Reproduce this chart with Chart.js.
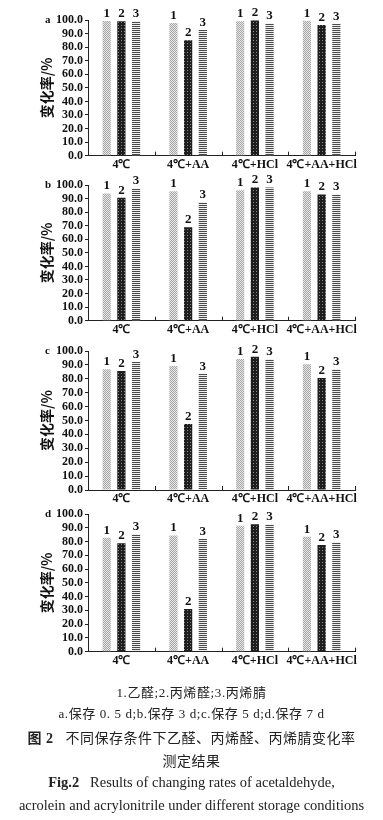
<!DOCTYPE html>
<html><head><meta charset="utf-8">
<script src="https://cdn.jsdelivr.net/npm/chart.js@4.4.1/dist/chart.umd.min.js"></script>
<style>
html,body{margin:0;padding:0;background:#fff;}
body{width:383px;height:820px;position:relative;overflow:hidden;font-family:"Liberation Serif","Noto Sans CJK SC",serif;color:#222;}
.pn{position:absolute;left:0;width:383px;height:176px;}
.cap{position:absolute;left:0;width:383px;text-align:center;white-space:nowrap;}
</style></head><body>
<div class="pn" style="top:0"><canvas id="ca"></canvas></div>
<div class="pn" style="top:165px"><canvas id="cb"></canvas></div>
<div class="pn" style="top:330px"><canvas id="cc"></canvas></div>
<div class="pn" style="top:495px"><canvas id="cd"></canvas></div>
<div class="cap" style="top:682px;font-size:13px;letter-spacing:0.6px;">1.乙醛;2.丙烯醛;3.丙烯腈</div>
<div class="cap" style="top:703px;font-size:13px;letter-spacing:0.6px;">a.保存 0. 5 d;b.保存 3 d;c.保存 5 d;d.保存 7 d</div>
<div class="cap" style="top:727px;font-size:14px;letter-spacing:0.5px;"><b>图 2</b>&nbsp;&nbsp;&nbsp;不同保存条件下乙醛、丙烯醛、丙烯腈变化率</div>
<div class="cap" style="top:750px;font-size:14px;letter-spacing:0.5px;">测定结果</div>
<div class="cap" style="top:774px;font-size:14.5px;"><b>Fig.2</b>&nbsp;&nbsp;&nbsp;Results of changing rates of acetaldehyde,</div>
<div class="cap" style="top:797px;font-size:14.5px;">acrolein and acrylonitrile under different storage conditions</div>
<script>
const categories = ["4℃", "4℃+AA", "4℃+HCl", "4℃+AA+HCl"];
const seriesNames = ["1", "2", "3"];
const yTicks = [0, 10, 20, 30, 40, 50, 60, 70, 80, 90, 100];
const panelLetters = ["a", "b", "c", "d"];
// panel a: 0.5 d
const a_acetaldehyde = [99.2, 97.8, 99.0, 99.4];
const a_acrolein     = [99.0, 85.0, 99.6, 96.4];
const a_acrylonitrile= [99.0, 92.6, 97.4, 97.0];
// panel b: 3 d
const b_acetaldehyde = [93.8, 95.4, 96.2, 95.4];
const b_acrolein     = [90.6, 68.8, 98.2, 93.0];
const b_acrylonitrile= [97.4, 87.4, 98.2, 93.0];
// panel c: 5 d
const c_acetaldehyde = [86.8, 89.2, 94.2, 90.4];
const c_acrolein     = [85.6, 47.5, 95.9, 80.6];
const c_acrylonitrile= [92.3, 83.7, 94.2, 87.1];
// panel d: 7 d
const d_acetaldehyde = [82.8, 84.3, 91.5, 83.5];
const d_acrolein     = [78.7, 31.0, 92.5, 77.5];
const d_acrylonitrile= [85.2, 82.1, 92.5, 79.4];

function makePattern(w, h, draw){
  const c = document.createElement('canvas'); c.width = w; c.height = h;
  const x = c.getContext('2d'); draw(x);
  return x.createPattern(c, 'repeat');
}
const pat1 = makePattern(2, 2, x => { x.fillStyle='#e6e6e6'; x.fillRect(0,0,2,2); x.fillStyle='#a8a8a8'; x.fillRect(0,0,1,1); x.fillRect(1,1,1,1); });
const pat2 = makePattern(3, 3, x => { x.fillStyle='#1e1e1e'; x.fillRect(0,0,3,3); x.fillStyle='#8a8a8a'; x.fillRect(1,1,1,1); });
const pat3 = makePattern(2, 2, x => { x.fillStyle='#eeeeee'; x.fillRect(0,0,2,2); x.fillStyle='#4a4a4a'; x.fillRect(0,0,2,1); });
const patterns = [pat1, pat2, pat3];

const panels = [
  {id:'ca', letter:panelLetters[0], data:[a_acetaldehyde,a_acrolein,a_acrylonitrile], top:20, bottom:155.7},
  {id:'cb', letter:panelLetters[1], data:[b_acetaldehyde,b_acrolein,b_acrylonitrile], top:20, bottom:155.7},
  {id:'cc', letter:panelLetters[2], data:[c_acetaldehyde,c_acrolein,c_acrylonitrile], top:21, bottom:160},
  {id:'cd', letter:panelLetters[3], data:[d_acetaldehyde,d_acrolein,d_acrylonitrile], top:19, bottom:156.7}
];

const serifBold = {family:'"Liberation Serif", "Times New Roman", serif', weight:'bold', size:12};
const catFont = {family:'"Liberation Serif", "Times New Roman", serif', weight:'bold', size:12};

const decor = {
  id:'decor',
  afterDraw(chart, args, opts){
    const ctx = chart.ctx, ca = chart.chartArea, xs = chart.scales.x;
    ctx.save();
    ctx.strokeStyle = '#222'; ctx.lineWidth = 1;
    const n = categories.length;
    for (let i = 1; i <= n; i++){
      const px = i < n ? (xs.getPixelForValue(i-1) + xs.getPixelForValue(i))/2 : ca.right;
      const xx = Math.round(px) + 0.5;
      ctx.beginPath(); ctx.moveTo(xx, ca.bottom); ctx.lineTo(xx, ca.bottom - 4); ctx.stroke();
    }
    ctx.fillStyle = '#111';
    ctx.font = 'bold 13px "Liberation Serif", serif';
    ctx.textAlign = 'center'; ctx.textBaseline = 'bottom';
    chart.data.datasets.forEach((ds, di) => {
      chart.getDatasetMeta(di).data.forEach(el => {
        ctx.fillText(seriesNames[di], el.x, el.y - 1);
      });
    });
    ctx.font = 'bold 11px "Liberation Serif", serif';
    ctx.textAlign = 'left'; ctx.textBaseline = 'middle';
    ctx.fillText(opts.letter, 45, ca.top);
    ctx.save();
    ctx.translate(47, (ca.top + ca.bottom)/2);
    ctx.rotate(-Math.PI/2);
    ctx.textAlign = 'center'; ctx.textBaseline = 'middle';
    ctx.font = 'bold 14px "Noto Sans CJK SC", sans-serif';
    ctx.fillText('变化率/%', 0, 0);
    ctx.restore();
    ctx.restore();
  }
};

panels.forEach(p => {
  const H = 176, xH = 14;
  new Chart(document.getElementById(p.id), {
    type:'bar',
    data:{
      labels: categories,
      datasets: p.data.map((vals, i) => ({
        label: seriesNames[i], data: vals, backgroundColor: patterns[i],
        borderWidth: 0, barPercentage: 0.56, categoryPercentage: 0.66
      }))
    },
    options:{
      responsive:true, maintainAspectRatio:false, animation:false,
      layout:{padding:{top:p.top, right:28, bottom:H - p.bottom - xH, left:0}},
      plugins:{legend:{display:false}, tooltip:{enabled:false}, decor:{letter:p.letter}},
      scales:{
        x:{
          afterFit: s => { s.height = xH; },
          grid:{display:true, drawOnChartArea:false, drawTicks:false, color:'rgba(0,0,0,0)'},
          border:{display:true, color:'#222', width:1},
          ticks:{color:'#111', font:catFont, padding:2, maxRotation:0, autoSkip:false}
        },
        y:{
          min:0, max:100,
          afterFit: s => { s.width = 88; },
          afterBuildTicks: s => { s.ticks = yTicks.map(v => ({value:v})); },
          grid:{drawOnChartArea:false, tickLength:3, color:'#222'},
          border:{display:true, color:'#222', width:1},
          ticks:{color:'#111', font:serifBold, padding:2, autoSkip:false, callback: v => Number(v).toFixed(1)}
        }
      }
    },
    plugins:[decor]
  });
});
</script>
</body></html>
